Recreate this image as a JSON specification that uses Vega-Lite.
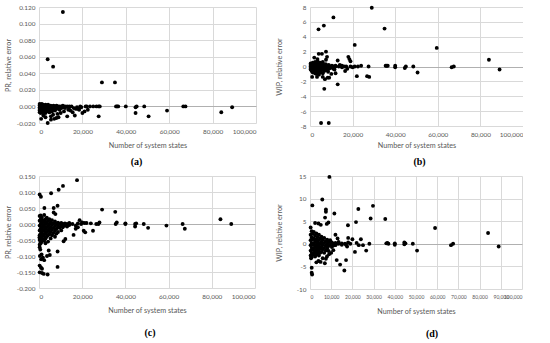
{
"$schema":"https://vega.github.io/schema/vega-lite/v6.json",
"padding":{"left":4,"top":4,"right":0,"bottom":0},
"background":"white",
"columns":2,
"spacing":{"row":5,"column":19},
"config":{
 "view":{"stroke":null},
 "circle":{"size":15,"color":"#000000","opacity":1},
 "axis":{"labelFont":"Lato","labelFontSize":6.4,"labelColor":"#595959","labelOverlap":false,"titleFont":"Lato","titleFontSize":7.2,"titleFontWeight":"normal","titleColor":"#595959","grid":true,"gridColor":"#d9d9d9","gridWidth":1,"domain":false,"ticks":false},
 "title":{"orient":"bottom","font":"Liberation Serif","fontSize":10,"fontWeight":"bold","color":"#000000"}
},
"datasets":{
"a":[
{"x":11000,"y":0.114},{"x":4000,"y":0.057},{"x":6500,"y":0.048},{"x":29000,"y":0.029},{"x":35000,"y":0.029},
{"x":35500,"y":0.0},{"x":36000,"y":0.0},{"x":36500,"y":0.0},{"x":40000,"y":0.0},{"x":44500,"y":-0.001},{"x":45000,"y":0.0},{"x":48500,"y":0.0},{"x":44500,"y":-0.008},{"x":50500,"y":-0.012},{"x":59000,"y":-0.005},{"x":66500,"y":0.0},{"x":67500,"y":0.0},{"x":84000,"y":-0.007},{"x":89000,"y":-0.001},
{"x":27500,"y":-0.012},{"x":27500,"y":0.0},{"x":28000,"y":0.0},{"x":26500,"y":0.0},{"x":25000,"y":0.0},{"x":23500,"y":0.0},{"x":22000,"y":0.0},{"x":21500,"y":0.0},{"x":20000,"y":-0.008},{"x":21000,"y":-0.006},{"x":22500,"y":-0.004},{"x":19500,"y":-0.001},{"x":16500,"y":-0.011},{"x":15500,"y":-0.007},{"x":13000,"y":-0.012},{"x":18000,"y":-0.003},{"x":17500,"y":-0.001},{"x":18500,"y":-0.004},{"x":19000,"y":0.0},{"x":8000,"y":-0.014},{"x":9000,"y":-0.013},{"x":7000,"y":-0.015},{"x":5500,"y":-0.012},{"x":5500,"y":-0.016},{"x":4000,"y":-0.02},{"x":1000,"y":-0.015},{"x":3000,"y":-0.013},{"x":2000,"y":-0.011},{"x":6500,"y":-0.01},{"x":8500,"y":-0.009},{"x":10000,"y":-0.008},{"x":11500,"y":-0.006},{"x":13500,"y":-0.004},{"x":14500,"y":-0.005},{"x":16000,"y":-0.002},{"x":17000,"y":-0.003},
{"x":300,"y":0.003},{"x":300,"y":0.001},{"x":300,"y":-0.001},{"x":300,"y":-0.003},{"x":300,"y":-0.005},{"x":300,"y":-0.007},
{"x":800,"y":0.002},{"x":800,"y":0.0},{"x":800,"y":-0.002},{"x":800,"y":-0.004},{"x":800,"y":-0.006},{"x":800,"y":-0.008},
{"x":1300,"y":0.003},{"x":1300,"y":0.001},{"x":1300,"y":-0.001},{"x":1300,"y":-0.003},{"x":1300,"y":-0.005},{"x":1300,"y":-0.007},
{"x":1800,"y":0.002},{"x":1800,"y":0.0},{"x":1800,"y":-0.002},{"x":1800,"y":-0.004},{"x":1800,"y":-0.006},
{"x":2400,"y":0.001},{"x":2400,"y":-0.001},{"x":2400,"y":-0.003},{"x":2400,"y":-0.005},{"x":2400,"y":-0.007},
{"x":3000,"y":0.002},{"x":3000,"y":0.0},{"x":3000,"y":-0.002},{"x":3000,"y":-0.004},{"x":3000,"y":-0.006},{"x":3000,"y":-0.008},
{"x":3600,"y":0.001},{"x":3600,"y":-0.001},{"x":3600,"y":-0.003},{"x":3600,"y":-0.005},
{"x":4200,"y":0.002},{"x":4200,"y":0.0},{"x":4200,"y":-0.002},{"x":4200,"y":-0.004},{"x":4200,"y":-0.006},
{"x":4800,"y":0.0},{"x":4800,"y":-0.002},{"x":4800,"y":-0.004},{"x":4800,"y":-0.007},
{"x":5400,"y":0.001},{"x":5400,"y":-0.001},{"x":5400,"y":-0.003},{"x":5400,"y":-0.005},
{"x":6000,"y":0.0},{"x":6000,"y":-0.002},{"x":6000,"y":-0.004},{"x":6000,"y":-0.006},
{"x":6700,"y":0.001},{"x":6700,"y":-0.001},{"x":6700,"y":-0.003},
{"x":7400,"y":0.0},{"x":7400,"y":-0.002},{"x":7400,"y":-0.005},
{"x":8100,"y":0.001},{"x":8100,"y":-0.001},{"x":8100,"y":-0.003},
{"x":8800,"y":0.0},{"x":8800,"y":-0.002},
{"x":9500,"y":0.0},{"x":9500,"y":-0.001},{"x":9500,"y":-0.004},
{"x":10300,"y":0.0},{"x":10300,"y":-0.002},
{"x":11000,"y":0.001},{"x":11000,"y":-0.001},
{"x":12000,"y":0.0},{"x":12000,"y":-0.002},
{"x":13000,"y":0.0},{"x":14000,"y":0.0},{"x":14000,"y":-0.001},{"x":15000,"y":0.0}
],
"b":[
{"x":29000,"y":7.9},{"x":11000,"y":6.6},{"x":6500,"y":5.5},{"x":4000,"y":5.0},{"x":35000,"y":5.1},{"x":59500,"y":2.5},{"x":84000,"y":0.9},{"x":89000,"y":-0.4},{"x":50500,"y":-0.8},{"x":66500,"y":-0.1},{"x":67500,"y":0.0},{"x":48500,"y":0.0},{"x":45000,"y":0.0},{"x":44500,"y":-0.2},{"x":40000,"y":0.1},{"x":40000,"y":-0.1},{"x":36000,"y":0.1},{"x":35500,"y":0.1},{"x":36500,"y":0.1},
{"x":21000,"y":2.9},{"x":18000,"y":1.3},{"x":18500,"y":1.0},{"x":19000,"y":0.7},{"x":13000,"y":0.8},{"x":13000,"y":-2.4},{"x":6700,"y":-3.0},{"x":5200,"y":-7.6},{"x":8800,"y":-7.6},{"x":22000,"y":-1.3},{"x":26800,"y":-1.3},{"x":27800,"y":-1.4},{"x":27500,"y":0.0},{"x":24000,"y":0.1},{"x":22500,"y":0.0},{"x":21000,"y":0.0},{"x":20000,"y":-0.1},{"x":7000,"y":-1.7},{"x":9000,"y":-1.5},
{"x":2000,"y":1.2},{"x":4100,"y":1.7},{"x":5600,"y":1.7},{"x":7500,"y":2.0},{"x":8000,"y":1.3},{"x":3500,"y":1.0},{"x":6000,"y":0.6},{"x":7500,"y":0.9},{"x":3300,"y":-1.4},{"x":1000,"y":-1.4},{"x":16500,"y":-0.6},{"x":17500,"y":-0.3},{"x":12000,"y":-0.9},{"x":11500,"y":-0.4},{"x":15000,"y":-0.1},{"x":16000,"y":0.0},{"x":14000,"y":0.2},{"x":10000,"y":-1.0},{"x":8500,"y":-0.7},{"x":6000,"y":-1.4},{"x":8300,"y":-1.5},
{"x":300,"y":0.4},{"x":300,"y":0.2},{"x":300,"y":0.0},{"x":300,"y":-0.2},{"x":300,"y":-0.4},
{"x":800,"y":0.3},{"x":800,"y":0.1},{"x":800,"y":-0.1},{"x":800,"y":-0.3},{"x":800,"y":-0.6},
{"x":1300,"y":0.5},{"x":1300,"y":0.2},{"x":1300,"y":0.0},{"x":1300,"y":-0.2},{"x":1300,"y":-0.5},{"x":1300,"y":-0.8},
{"x":1800,"y":0.3},{"x":1800,"y":0.0},{"x":1800,"y":-0.3},{"x":1800,"y":-0.6},
{"x":2400,"y":0.6},{"x":2400,"y":0.2},{"x":2400,"y":-0.1},{"x":2400,"y":-0.4},{"x":2400,"y":-0.9},
{"x":3000,"y":0.4},{"x":3000,"y":0.1},{"x":3000,"y":-0.2},{"x":3000,"y":-0.6},{"x":3000,"y":-1.0},
{"x":3600,"y":0.7},{"x":3600,"y":0.2},{"x":3600,"y":-0.3},{"x":3600,"y":-0.7},
{"x":4200,"y":0.3},{"x":4200,"y":0.0},{"x":4200,"y":-0.4},{"x":4200,"y":-1.1},
{"x":4800,"y":0.5},{"x":4800,"y":0.1},{"x":4800,"y":-0.2},{"x":4800,"y":-0.8},
{"x":5400,"y":0.2},{"x":5400,"y":-0.1},{"x":5400,"y":-0.5},
{"x":6000,"y":0.4},{"x":6000,"y":0.0},{"x":6000,"y":-0.3},{"x":6000,"y":-0.9},
{"x":6700,"y":0.1},{"x":6700,"y":-0.2},{"x":6700,"y":-0.6},
{"x":7400,"y":0.3},{"x":7400,"y":0.0},{"x":7400,"y":-0.4},
{"x":8100,"y":0.1},{"x":8100,"y":-0.1},{"x":8100,"y":-0.5},
{"x":8800,"y":0.2},{"x":8800,"y":0.0},{"x":8800,"y":-0.3},
{"x":9500,"y":0.0},{"x":9500,"y":-0.2},
{"x":10300,"y":0.1},{"x":10300,"y":-0.1},
{"x":11000,"y":0.0},{"x":11000,"y":-0.3},
{"x":12000,"y":0.1},{"x":12000,"y":0.0},
{"x":13500,"y":0.0},{"x":15000,"y":0.1},{"x":17000,"y":0.0},{"x":19000,"y":0.0}
],
"c":[
{"x":17600,"y":0.137},{"x":11100,"y":0.119},{"x":9100,"y":0.107},{"x":5600,"y":0.096},{"x":300,"y":0.092},{"x":900,"y":0.085},{"x":29200,"y":0.045},{"x":35300,"y":0.038},{"x":2500,"y":0.05},{"x":6800,"y":0.05},{"x":8600,"y":0.057},{"x":6800,"y":0.036},{"x":7600,"y":0.031},{"x":18800,"y":0.012},
{"x":48500,"y":0.0},{"x":44500,"y":-0.008},{"x":50500,"y":-0.012},{"x":59000,"y":-0.005},{"x":66500,"y":0.0},{"x":67500,"y":-0.015},{"x":84000,"y":0.015},{"x":89000,"y":0.0},{"x":40000,"y":0.0},{"x":40000,"y":0.002},{"x":36000,"y":0.005},{"x":35500,"y":0.0},{"x":44500,"y":0.0},{"x":45000,"y":0.002},{"x":28000,"y":0.005},{"x":27500,"y":0.0},{"x":26500,"y":0.0},{"x":24000,"y":0.002},{"x":22000,"y":0.003},{"x":20000,"y":0.005},{"x":21000,"y":0.003},{"x":19500,"y":0.0},
{"x":20700,"y":-0.021},{"x":25000,"y":-0.021},{"x":21400,"y":-0.026},{"x":16000,"y":-0.034},{"x":12200,"y":-0.047},{"x":11400,"y":-0.054},{"x":8600,"y":-0.086},{"x":8600,"y":-0.134},{"x":4500,"y":-0.083},{"x":5000,"y":-0.097},{"x":3700,"y":-0.1},{"x":4000,"y":-0.158},{"x":300,"y":-0.151},{"x":1400,"y":-0.153},{"x":2200,"y":-0.156},{"x":300,"y":-0.13},{"x":900,"y":-0.136},{"x":1400,"y":-0.14},{"x":600,"y":-0.08},{"x":1200,"y":-0.095},{"x":1800,"y":-0.105},{"x":1000,"y":-0.11},{"x":2400,"y":-0.113},{"x":400,"y":-0.1},{"x":200,"y":-0.042},{"x":700,"y":-0.058},{"x":300,"y":-0.073},
{"x":300,"y":0.025},{"x":300,"y":0.01},{"x":300,"y":-0.005},{"x":300,"y":-0.02},{"x":300,"y":-0.035},{"x":300,"y":-0.05},{"x":300,"y":-0.065},
{"x":800,"y":0.027},{"x":800,"y":0.015},{"x":800,"y":0.0},{"x":800,"y":-0.015},{"x":800,"y":-0.03},{"x":800,"y":-0.045},{"x":800,"y":-0.06},
{"x":1300,"y":0.02},{"x":1300,"y":0.005},{"x":1300,"y":-0.01},{"x":1300,"y":-0.025},{"x":1300,"y":-0.04},{"x":1300,"y":-0.055},
{"x":1800,"y":0.012},{"x":1800,"y":-0.002},{"x":1800,"y":-0.018},{"x":1800,"y":-0.032},{"x":1800,"y":-0.048},
{"x":2400,"y":0.028},{"x":2400,"y":0.008},{"x":2400,"y":-0.008},{"x":2400,"y":-0.022},{"x":2400,"y":-0.038},{"x":2400,"y":-0.052},
{"x":3000,"y":0.015},{"x":3000,"y":0.0},{"x":3000,"y":-0.015},{"x":3000,"y":-0.03},{"x":3000,"y":-0.045},{"x":3000,"y":-0.06},
{"x":3600,"y":0.02},{"x":3600,"y":0.005},{"x":3600,"y":-0.01},{"x":3600,"y":-0.025},{"x":3600,"y":-0.04},
{"x":4200,"y":0.01},{"x":4200,"y":-0.005},{"x":4200,"y":-0.02},{"x":4200,"y":-0.035},{"x":4200,"y":-0.055},
{"x":4800,"y":0.015},{"x":4800,"y":0.0},{"x":4800,"y":-0.015},{"x":4800,"y":-0.03},
{"x":5400,"y":0.005},{"x":5400,"y":-0.01},{"x":5400,"y":-0.025},{"x":5400,"y":-0.045},
{"x":6000,"y":0.012},{"x":6000,"y":-0.003},{"x":6000,"y":-0.018},{"x":6000,"y":-0.035},
{"x":6700,"y":0.002},{"x":6700,"y":-0.012},{"x":6700,"y":-0.028},
{"x":7400,"y":0.008},{"x":7400,"y":-0.006},{"x":7400,"y":-0.02},{"x":7400,"y":-0.04},
{"x":8100,"y":0.0},{"x":8100,"y":-0.015},{"x":8100,"y":-0.03},
{"x":8800,"y":0.004},{"x":8800,"y":-0.008},{"x":8800,"y":-0.025},
{"x":9500,"y":0.0},{"x":9500,"y":-0.012},
{"x":10300,"y":0.003},{"x":10300,"y":-0.006},{"x":10300,"y":-0.02},
{"x":11000,"y":0.0},{"x":11000,"y":-0.01},
{"x":12000,"y":0.002},{"x":12000,"y":-0.005},
{"x":13000,"y":0.0},{"x":13000,"y":-0.008},
{"x":14000,"y":0.003},{"x":14000,"y":-0.003},
{"x":15500,"y":0.0},{"x":17000,"y":-0.005},{"x":17000,"y":-0.015},{"x":18000,"y":-0.01},{"x":18000,"y":0.002}
],
"d":[
{"x":9150,"y":14.8},{"x":5800,"y":9.8},{"x":1100,"y":8.5},{"x":7500,"y":7.6},{"x":7500,"y":7.1},{"x":11500,"y":6.7},{"x":22800,"y":7.7},{"x":29700,"y":8.4},{"x":28600,"y":5.6},{"x":35500,"y":5.5},{"x":21700,"y":4.8},{"x":17900,"y":4.1},{"x":7100,"y":5.8},{"x":8700,"y":4.7},{"x":2400,"y":4.6},{"x":4000,"y":4.5},{"x":5100,"y":4.2},{"x":7900,"y":4.4},{"x":300,"y":3.6},
{"x":48500,"y":0.0},{"x":44500,"y":-0.1},{"x":44500,"y":0.3},{"x":45000,"y":0.1},{"x":40000,"y":0.1},{"x":40000,"y":-0.2},{"x":36000,"y":0.1},{"x":36500,"y":0.2},{"x":37000,"y":0.0},{"x":50500,"y":-1.5},{"x":59000,"y":3.5},{"x":66500,"y":-0.3},{"x":67500,"y":0.0},{"x":84000,"y":2.4},{"x":89000,"y":-0.6},
{"x":28000,"y":0.0},{"x":26500,"y":-1.5},{"x":24000,"y":1.0},{"x":20000,"y":1.0},{"x":22000,"y":0.2},{"x":23000,"y":-0.3},{"x":25000,"y":-0.3},{"x":18000,"y":1.3},{"x":17500,"y":-0.6},{"x":17000,"y":-0.2},{"x":12000,"y":2.0},{"x":13000,"y":1.2},{"x":11000,"y":-1.4},{"x":10000,"y":-2.0},{"x":9000,"y":-2.3},{"x":8000,"y":-2.8},{"x":7500,"y":-3.3},{"x":6000,"y":-3.2},{"x":7000,"y":-4.3},{"x":5000,"y":-4.0},{"x":4000,"y":-3.8},{"x":3000,"y":-4.1},{"x":500,"y":-3.2},{"x":1500,"y":-2.2},
{"x":800,"y":-5.3},{"x":800,"y":-6.4},{"x":1000,"y":-6.8},{"x":16200,"y":-5.9},{"x":17000,"y":-3.6},{"x":14200,"y":-4.6},{"x":12600,"y":-3.6},{"x":21200,"y":-1.8},{"x":18000,"y":0.3},{"x":19000,"y":0.0},
{"x":300,"y":2.0},{"x":300,"y":0.8},{"x":300,"y":-0.3},{"x":300,"y":-1.5},{"x":300,"y":-2.6},
{"x":800,"y":2.8},{"x":800,"y":1.4},{"x":800,"y":0.2},{"x":800,"y":-0.9},{"x":800,"y":-2.0},{"x":800,"y":-3.0},
{"x":1300,"y":2.2},{"x":1300,"y":1.0},{"x":1300,"y":-0.2},{"x":1300,"y":-1.3},{"x":1300,"y":-2.4},
{"x":1800,"y":2.6},{"x":1800,"y":1.2},{"x":1800,"y":0.0},{"x":1800,"y":-1.0},{"x":1800,"y":-2.0},
{"x":2400,"y":1.8},{"x":2400,"y":0.5},{"x":2400,"y":-0.6},{"x":2400,"y":-1.7},{"x":2400,"y":-2.8},
{"x":3000,"y":2.3},{"x":3000,"y":1.0},{"x":3000,"y":-0.2},{"x":3000,"y":-1.3},{"x":3000,"y":-2.3},
{"x":3600,"y":1.5},{"x":3600,"y":0.3},{"x":3600,"y":-0.8},{"x":3600,"y":-1.9},
{"x":4200,"y":2.0},{"x":4200,"y":0.8},{"x":4200,"y":-0.4},{"x":4200,"y":-1.5},{"x":4200,"y":-2.6},
{"x":4800,"y":1.2},{"x":4800,"y":0.0},{"x":4800,"y":-1.0},{"x":4800,"y":-2.0},
{"x":5400,"y":1.6},{"x":5400,"y":0.4},{"x":5400,"y":-0.7},{"x":5400,"y":-1.8},
{"x":6000,"y":0.9},{"x":6000,"y":-0.2},{"x":6000,"y":-1.2},
{"x":6700,"y":1.3},{"x":6700,"y":0.2},{"x":6700,"y":-0.9},{"x":6700,"y":-2.0},
{"x":7400,"y":0.6},{"x":7400,"y":-0.4},{"x":7400,"y":-1.5},
{"x":8100,"y":0.9},{"x":8100,"y":0.0},{"x":8100,"y":-1.0},
{"x":8800,"y":0.4},{"x":8800,"y":-0.5},{"x":8800,"y":-1.6},
{"x":9500,"y":0.8},{"x":9500,"y":-0.2},
{"x":10300,"y":0.3},{"x":10300,"y":-0.7},
{"x":11000,"y":0.0},{"x":11000,"y":-0.4},
{"x":12000,"y":0.2},{"x":12000,"y":-0.3},
{"x":13500,"y":0.0},{"x":13500,"y":0.4},
{"x":15000,"y":0.1},{"x":15000,"y":-0.2},{"x":16500,"y":0.0}
]
},
"concat":[
{
 "width":217,"height":116,
 "title":{"text":"(a)","offset":9,"dx":-11},
 "data":{"name":"a"},
 "mark":"circle",
 "encoding":{
  "x":{"field":"x","type":"quantitative","scale":{"domain":[0,100000],"nice":false},"axis":{"title":"Number of system states","values":[0,20000,40000,60000,80000,100000],"format":",d","labelPadding":5,"titlePadding":6,"minExtent":12,"maxExtent":12}},
  "y":{"field":"y","type":"quantitative","scale":{"domain":[-0.02,0.12],"nice":false,"zero":false},"axis":{"title":"PR, relative error","values":[-0.02,0,0.02,0.04,0.06,0.08,0.1,0.12],"labelExpr":"replace(format(datum.value,'.3f'),'\u2212','-')","gridColor":{"condition":{"test":"datum.value === 0","value":"#b0b0b0"},"value":"#d9d9d9"},"labelPadding":4,"titlePadding":5,"minExtent":22,"maxExtent":22}}
 }
},
{
 "width":213,"height":119,
 "title":{"text":"(b)","offset":9,"dx":3},
 "data":{"name":"b"},
 "mark":"circle",
 "encoding":{
  "x":{"field":"x","type":"quantitative","scale":{"domain":[0,100000],"nice":false},"axis":{"title":"Number of system states","values":[0,20000,40000,60000,80000,100000],"format":",d","labelPadding":5,"titlePadding":3,"minExtent":12,"maxExtent":12}},
  "y":{"field":"y","type":"quantitative","scale":{"domain":[-8,8],"nice":false,"zero":false},"axis":{"title":"WIP, relative error","values":[-8,-6,-4,-2,0,2,4,6,8],"labelExpr":"replace(format(datum.value,'d'),'\u2212','-')","gridColor":{"condition":{"test":"datum.value === 0","value":"#b0b0b0"},"value":"#d9d9d9"},"labelPadding":4,"titlePadding":5,"minExtent":22,"maxExtent":22}}
 }
},
{
 "width":216,"height":112,
 "title":{"text":"(c)","offset":15,"dx":3},
 "data":{"name":"c"},
 "mark":"circle",
 "encoding":{
  "x":{"field":"x","type":"quantitative","scale":{"domain":[0,100000],"nice":false},"axis":{"title":"Number of system states","values":[0,20000,40000,60000,80000,100000],"format":",d","labelPadding":5,"titlePadding":6,"minExtent":12,"maxExtent":12}},
  "y":{"field":"y","type":"quantitative","scale":{"domain":[-0.2,0.15],"nice":false,"zero":false},"axis":{"title":"PR, relative error","values":[-0.2,-0.15,-0.1,-0.05,0,0.05,0.1,0.15],"labelExpr":"replace(format(datum.value,'.3f'),'\u2212','-')","gridColor":{"condition":{"test":"datum.value === 0","value":"#b0b0b0"},"value":"#d9d9d9"},"labelPadding":4,"titlePadding":5,"minExtent":22,"maxExtent":22}}
 }
},
{
 "width":212,"height":113,
 "title":{"text":"(d)","offset":15,"dx":16},
 "data":{"name":"d"},
 "mark":"circle",
 "encoding":{
  "x":{"field":"x","type":"quantitative","scale":{"domain":[0,100000],"nice":false},"axis":{"title":"Number of system states","values":[0,10000,20000,30000,40000,50000,60000,70000,80000,90000,100000],"format":",d","labelFontSize":5,"labelPadding":5,"titlePadding":6,"minExtent":12,"maxExtent":12}},
  "y":{"field":"y","type":"quantitative","scale":{"domain":[-10,15],"nice":false,"zero":false},"axis":{"title":"WIP, relative error","values":[-10,-5,0,5,10,15],"labelExpr":"replace(format(datum.value,'d'),'\u2212','-')","gridColor":{"condition":{"test":"datum.value === 0","value":"#b0b0b0"},"value":"#d9d9d9"},"labelPadding":4,"titlePadding":5,"minExtent":22,"maxExtent":22}}
 }
}
]
}
